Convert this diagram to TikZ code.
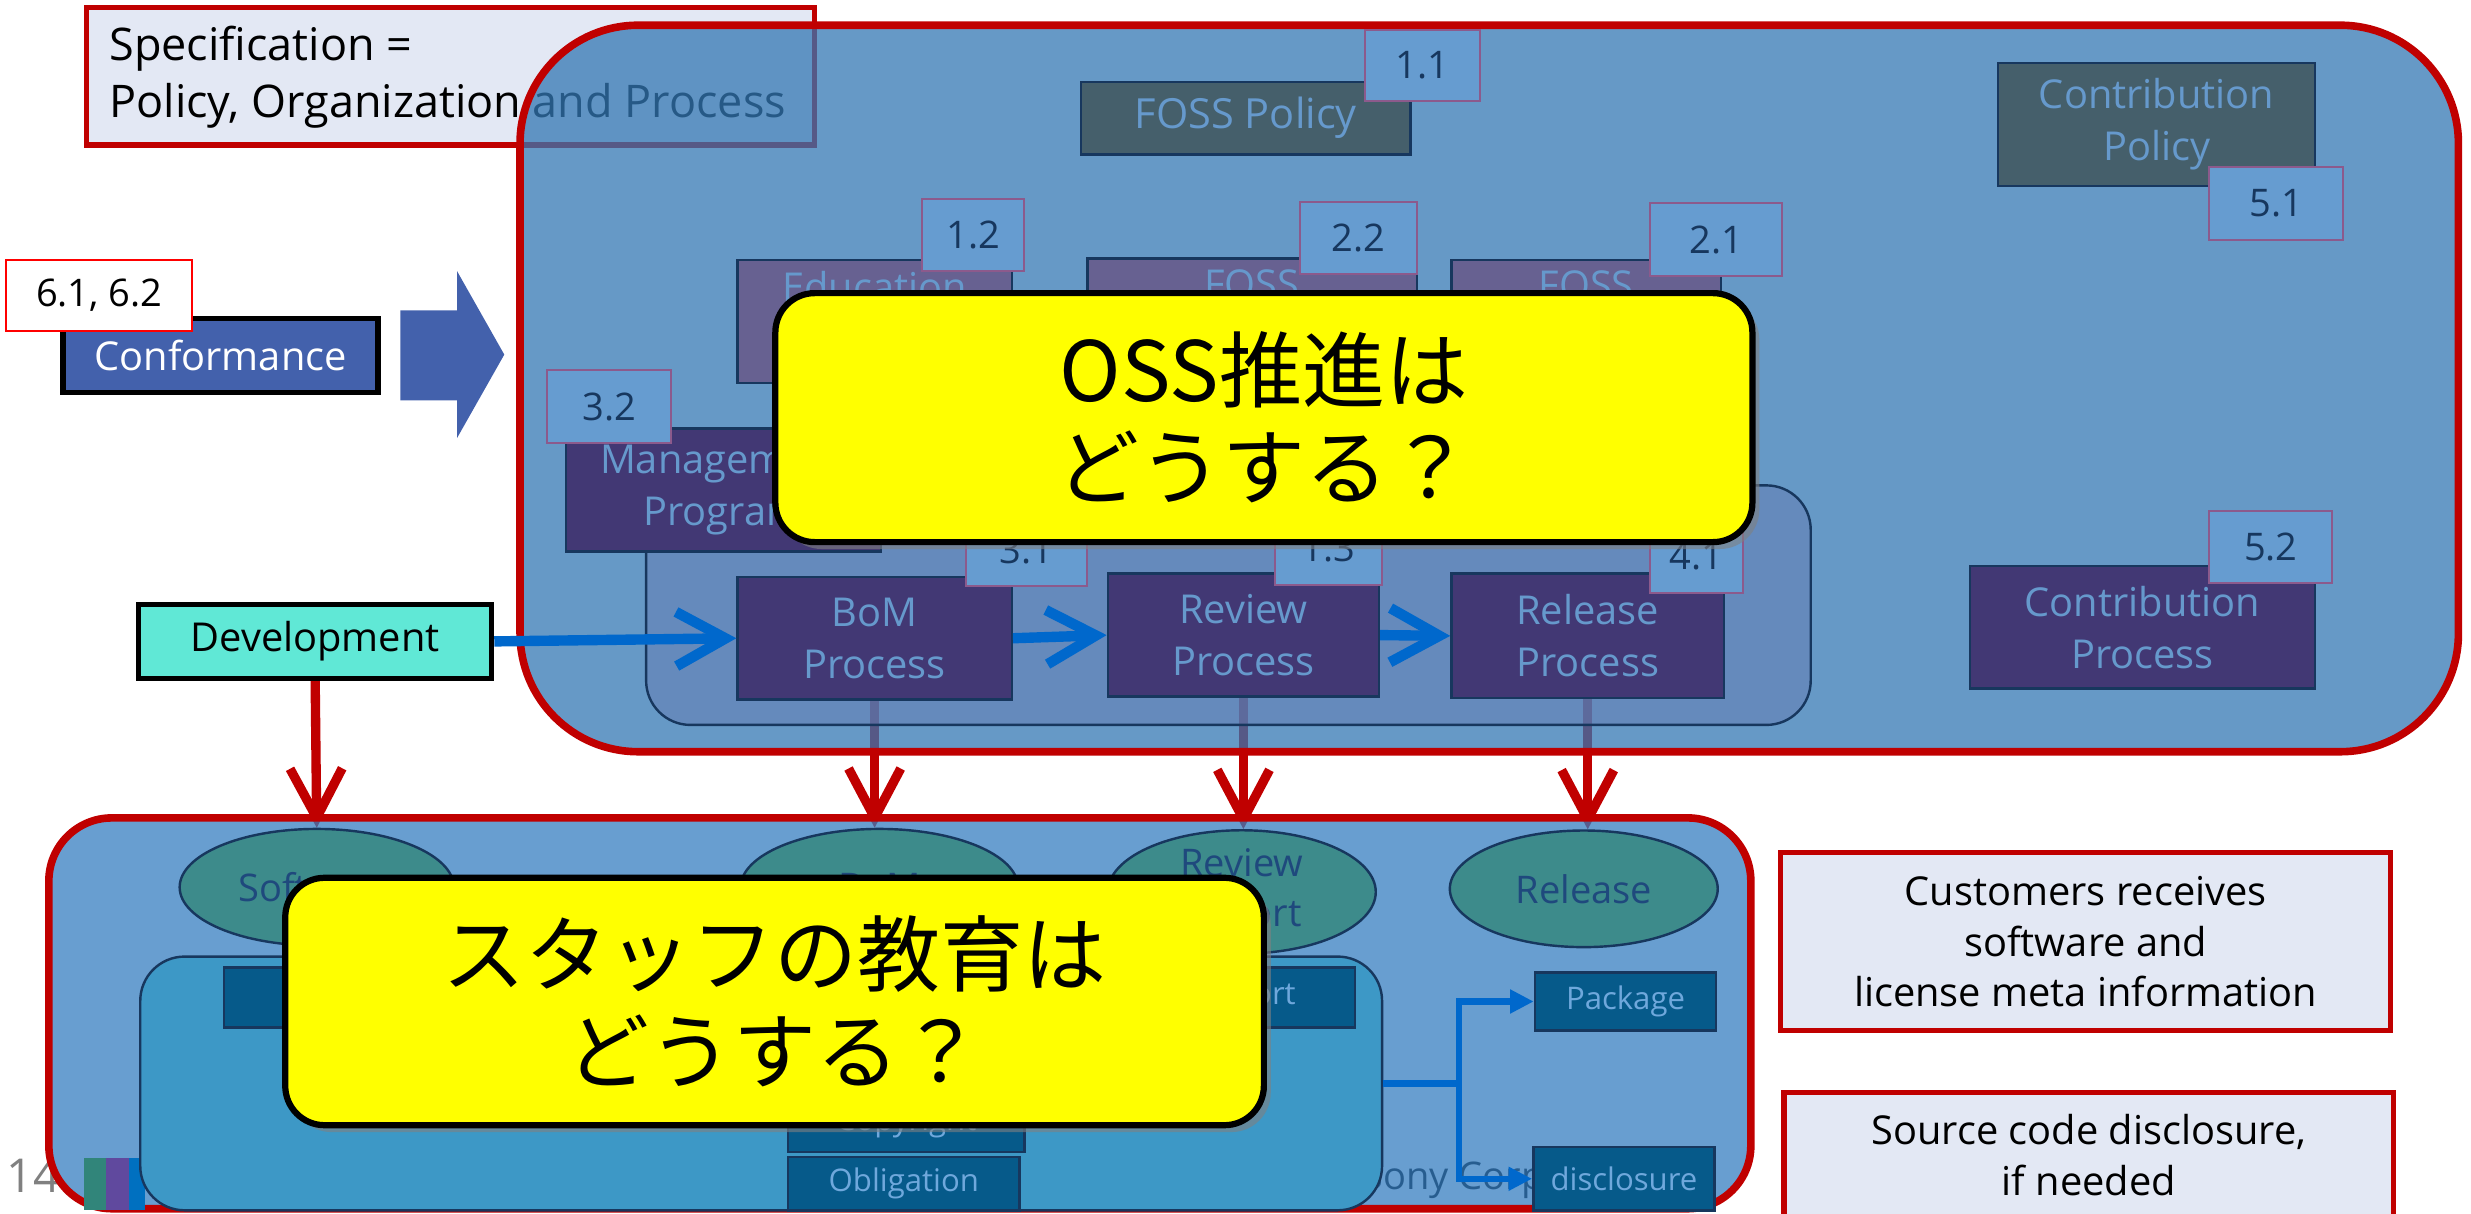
\documentclass[tikz,border=0pt]{standalone}
\usepackage{fontspec}
\setmainfont{Open Sans}
\newfontfamily\jpfont{Noto Sans CJK JP}
\usetikzlibrary{arrows.meta,shapes.geometric,shadows}

\definecolor{redline}{RGB}{192,0,0}
\definecolor{specfill}{RGB}{227,232,244}
\definecolor{panelblue}{RGB}{51,119,179}
\definecolor{panelblueb}{RGB}{53,125,192}
\definecolor{grpblue}{RGB}{100,123,178}
\definecolor{grpcyan}{RGB}{61,152,198}
\definecolor{navyline}{RGB}{23,55,94}
\definecolor{slatebox}{RGB}{69,95,107}
\definecolor{edupurple}{RGB}{103,97,145}
\definecolor{procpurple}{RGB}{66,56,116}
\definecolor{boxtext}{RGB}{102,153,204}
\definecolor{tagfill}{RGB}{102,156,208}
\definecolor{tagline}{RGB}{140,90,140}
\definecolor{tagtext}{RGB}{23,55,94}
\definecolor{confblue}{RGB}{67,97,172}
\definecolor{devcyan}{RGB}{96,232,214}
\definecolor{ellteal}{RGB}{61,139,139}
\definecolor{elltext}{RGB}{31,73,125}
\definecolor{smallbox}{RGB}{6,90,138}
\definecolor{smalltext}{RGB}{111,168,220}
\definecolor{arrowblue}{RGB}{0,104,204}
\definecolor{footgray}{RGB}{128,128,128}
\definecolor{barteal}{RGB}{49,133,122}
\definecolor{barpurple}{RGB}{96,73,158}
\definecolor{barblue}{RGB}{0,112,192}
\definecolor{askyellow}{RGB}{255,255,0}

\newdimen\pxu
\pxu=0.016cm

\pgfdeclarelayer{under}
\pgfdeclarelayer{panels}
\pgfsetlayers{under,panels,main}

\tikzset{
	sz/.style 2 args={minimum width=#1*\pxu, minimum height=#2*\pxu},
	box/.style={draw, inner sep=0pt, align=center},
	panel/.style={box, draw=redline, line width=2.2pt, fill opacity=0.75},
	grp/.style={box, draw=navyline, line width=0.7pt, rounded corners=0.45cm},
	polbox/.style={box, draw=navyline, line width=0.7pt, fill=slatebox, text=boxtext, font=\fontsize{11.5}{15}\selectfont},
	purbox/.style={polbox, fill=edupurple},
	procbox/.style={polbox, fill=procpurple},
	toplbl/.style={anchor=north, text=boxtext, font=\fontsize{11.5}{15}\selectfont},
	tag/.style={box, draw=tagline, line width=0.6pt, fill=tagfill, text=tagtext, font=\fontsize{11}{13}\selectfont},
	ell/.style={ellipse, draw=navyline, line width=0.7pt, fill=ellteal, text=elltext, inner sep=0pt, align=center, font=\fontsize{11}{14.5}\selectfont},
	sbox/.style={box, draw=navyline, line width=0.7pt, fill=smallbox, text=smalltext, font=\fontsize{9}{11}\selectfont},
	askbox/.style={box, line width=1.8pt, fill=askyellow, rounded corners=0.4cm, font=\fontsize{24}{28}\selectfont\jpfont, drop shadow={shadow xshift=0.7mm, shadow yshift=-0.7mm, opacity=0.6}},
	note/.style={box, draw=redline, line width=1.5pt, fill=specfill, font=\fontsize{11.5}{14.5}\selectfont},
	spectext/.style={anchor=west, inner sep=0pt, font=\fontsize{13}{16}\selectfont},
	redarr/.style={draw=redline, line width=2.7pt, -{Straight Barb[length=0.5cm, width=0.53cm]}},
	bluarr/.style={draw=arrowblue, line width=3pt, -{Straight Barb[length=0.5cm, width=0.55cm]}},
	branch/.style={draw=arrowblue, line width=1.8pt},
	brancharr/.style={branch, -{Triangle[length=0.24cm, width=0.23cm]}}
}

\begin{document}
\begin{tikzpicture}[x=0.016cm, y=-0.016cm]
	\useasboundingbox (0,0) rectangle (1568,770);

	\node[polbox, sz={209}{46}, font=\fontsize{12}{15}\selectfont] (fpol) at (790.5,75) {FOSS Policy};
	\node[tag, sz={73}{45}] (t11) at (902.5,41.5) {1.1};
	\node[purbox, sz={174}{78}, label={[toplbl]north:Education}] (edu) at (555,204) {};
	\node[tag, sz={65}{46}] (t12) at (617.5,149) {1.2};
	\node[purbox, sz={209}{79}, label={[toplbl]north:FOSS}] (foss2) at (794.5,203.5) {};
	\node[tag, sz={74}{46}] (t22) at (862,151) {2.2};
	\node[purbox, sz={171}{78}, label={[toplbl]north:FOSS}] (foss1) at (1006.5,204) {};
	\node[tag, sz={84}{46}] (t21) at (1089,152) {2.1};
	\node[procbox, sz={200}{78}] (mgmt) at (459,311) {Management\\Program};
	\node[tag, sz={79}{46}] (t32) at (386.5,258) {3.2};
	\node[procbox, sz={174}{78}] (bom) at (555,405) {BoM\\Process};
	\node[tag, sz={77}{46}] (t31) at (651.5,349) {3.1};
	\node[procbox, sz={172}{78}] (rev) at (789,403) {Review\\Process};
	\node[tag, sz={68}{46}] (t13) at (843,348) {1.3};
	\node[procbox, sz={173}{79}] (rel) at (1007.5,403.5) {Release\\Process};
	\node[tag, sz={59}{46}] (t41) at (1076.5,353) {4.1};
	\node[polbox, sz={201}{78}] (cpol) at (1368.5,79) {Contribution\\Policy};
	\node[tag, sz={85}{46}] (t51) at (1444.5,129) {5.1};
	\node[procbox, sz={219}{78}] (cproc) at (1359.5,398) {Contribution\\Process};
	\node[tag, sz={78}{46}] (t52) at (1441,347) {5.2};

	\node[box, fill=confblue, line width=1.6pt, text=white, sz={200}{47}, font=\fontsize{11.5}{14}\selectfont] (conf) at (140,225.5) {Conformance};
	\node[box, fill=white, draw=red, line width=0.6pt, sz={118}{45}, font=\fontsize{11}{13}\selectfont] (t6) at (63,187.5) {6.1, 6.2};
	\fill[confblue] (254,197) -- (290,197) -- (290,172) -- (320,225) -- (290,278) -- (290,254) -- (254,254) -- cycle;
	\node[box, fill=devcyan, line width=1.5pt, sz={224}{47}, font=\fontsize{11.5}{14}\selectfont] (dev) at (200,407) {Development};

	\fill[barteal] (53,735) rectangle (67,768);
	\fill[barpurple] (67,735) rectangle (82,768);
	\fill[barblue] (82,735) rectangle (92,768);
	\node[grp, fill=grpcyan, sz={788}{161}] (grp2) at (483,687.5) {};
	\node[ell, sz={174}{74}] (swe) at (201,563) {Software};
	\node[ell, sz={176}{74}] (bome) at (558,563) {BoM};
	\node[ell, sz={170}{73}] (reve) at (788,566) {Review\\Report};
	\node[ell, sz={170}{74}] (rele) at (1005,564) {Release};
	\node[sbox, sz={150}{38}] (lic) at (217,633) {License};
	\node[sbox, sz={138}{38}] (rep) at (791,633) {Report};
	\node[sbox, sz={150}{38}] (copy) at (575,712) {Copyright};
	\node[sbox, sz={147}{34}] (obl) at (573.5,751) {Obligation};
	\node[sbox, sz={115}{37}] (pkg) at (1031.5,635.5) {Package};
	\node[sbox, sz={115}{40}] (disc) at (1030.5,748) {disclosure};
	\coordinate (split) at (926,687.5);
	\draw[branch] (grp2.east) -- (split);
	\draw[brancharr] (split) |- (pkg.west);
	\draw[brancharr] (split) |- (disc.west);

	\draw[bluarr] (dev.east) -- (bom.west);
	\draw[bluarr] (bom.east) -- (rev.west);
	\draw[bluarr] (rev.east) -- (rel.west);

	\node[askbox, sz={620}{158}] (ask1) at (802,265) {OSS推進は\\どうする？};
	\node[askbox, sz={621}{157}] (ask2) at (491.5,635.5) {スタッフの教育は\\どうする？};

	\node[note, sz={387}{113}] (cust) at (1323.5,597.5) {Customers receives\\software and\\license meta information};
	\node[note, sz={387}{80}] (src) at (1325.5,733) {Source code disclosure,\\if needed};

	\begin{pgfonlayer}{panels}
		\node[panel, fill=panelblue, rounded corners=1.2cm, sz={1230}{461}] (topframe) at (945,246.5) {};
		\node[panel, fill=panelblueb, rounded corners=0.64cm, sz={1080}{248}] (botframe) at (571,643) {};
		\node[grp, fill=grpblue, fill opacity=0.5, sz={739}{152}] (grp1) at (779.5,384) {};
	\end{pgfonlayer}

	\begin{pgfonlayer}{under}
		\node[note, sz={462}{87}] (spec) at (286,48.5) {};
		\node[spectext] (spec1) at (69,31) {Specification =};
		\node[spectext] (spec2) at (69,67) {Policy, Organization and Process};
		\node[text=footgray, font=\fontsize{13.5}{16}\selectfont, anchor=west, inner sep=0pt] (page) at (4,746) {14};
		\node[font=\fontsize{11}{14}\selectfont, anchor=west, inner sep=0pt] (corp) at (864,749) {Sony Corp};
		\draw[redarr] (dev.south) -- (swe.north);
		\draw[redarr] (bom.south) -- (bom.south |- bome.north);
		\draw[redarr] (rev.south) -- (rev.south |- reve.north);
		\draw[redarr] (rel.south) -- (rel.south |- rele.north);
	\end{pgfonlayer}
\end{tikzpicture}
\end{document}
